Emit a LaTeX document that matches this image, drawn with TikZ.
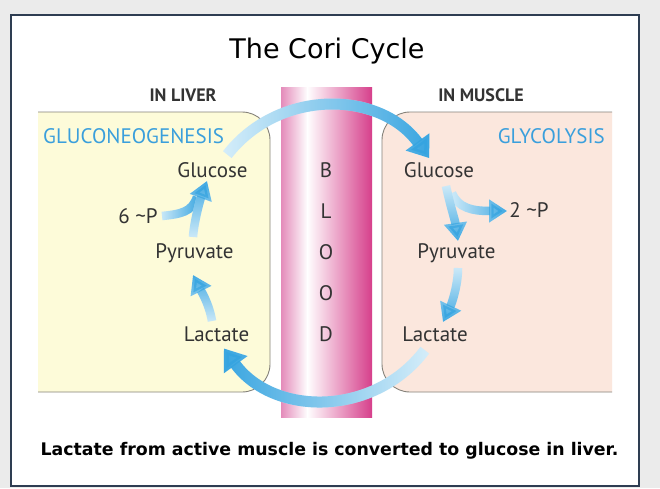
\documentclass[tikz,border=0pt]{standalone}
\usepackage{fontspec}
\setmainfont{PT Sans}
\newfontfamily\dvfont{DejaVu Sans}
\usetikzlibrary{arrows.meta,fadings}

\definecolor{bgout}{HTML}{EBEBEB}
\definecolor{framec}{HTML}{2E3D52}
\definecolor{liverfill}{HTML}{FDFBD9}
\definecolor{musclefill}{HTML}{FBE7DD}
\definecolor{boxline}{HTML}{85827A}
\definecolor{bloodL}{HTML}{E48BBA}
\definecolor{bloodM}{HTML}{EDB3D2}
\definecolor{bloodR}{HTML}{D63F8B}
\definecolor{txt}{HTML}{333333}
\definecolor{procblue}{HTML}{3A9FDC}
\definecolor{paleblue}{HTML}{D6EEFA}
\definecolor{arrblue}{HTML}{36A4E0}

\tikzfading[name=fadeE, left color=transparent!100, right color=transparent!0]
\tikzfading[name=fadeW, left color=transparent!0, right color=transparent!100]
\tikzfading[name=fadeN, bottom color=transparent!100, top color=transparent!0]
\tikzfading[name=fadeS, top color=transparent!100, bottom color=transparent!0]

\newcommand\gradconn[3]{%
  \draw[#1, draw=paleblue] #3;
  \draw[#1, draw=arrblue, path fading=#2] #3;
}

\tikzset{
  bigarc/.style={line width=11pt, -{Triangle[width=28pt,length=20pt]}},
  smallarr/.style={line width=8.5pt, -{Triangle[width=22pt,length=18pt]}},
  smallbranch/.style={line width=8.5pt},
  mol/.style={font=\fontsize{21}{24}\selectfont, text=txt, inner sep=0pt, anchor=base},
  proc/.style={font=\fontsize{21}{24}\selectfont, text=procblue, inner sep=0pt},
  hdr/.style={font=\bfseries\fontsize{18}{20}\selectfont, text=txt, inner sep=0pt, anchor=base},
  organ/.style={draw=boxline, line width=0.9pt, rounded corners=28pt},
}

\begin{document}
\begin{tikzpicture}[x=1pt,y=-1pt]
\useasboundingbox (0,0) rectangle (660,488);
\fill[bgout] (0,0) rectangle (660,488);
\draw[framec, line width=2.5pt, fill=white] (11,15) rectangle (639,486);

% organ boxes
\draw[organ, fill=liverfill] (38,112) -- (270,112) -- (270,392) -- (38,392);
\draw[organ, fill=musclefill] (612,112) -- (382,112) -- (382,392) -- (612,392);

% blood vessel
\shade[left color=bloodL, right color=white] (281,87) rectangle (307.5,417);
\shade[left color=white, middle color=bloodM, right color=bloodR] (307,87) rectangle (372,417);

% title and caption
\node[font=\dvfont\fontsize{27}{32}\selectfont, inner sep=0pt, anchor=base] (title) at (327,58) {The Cori Cycle};
\node[font=\dvfont\bfseries\fontsize{17.35}{20}\selectfont, inner sep=0pt, anchor=base] (caption) at (329.5,455) {Lactate from active muscle is converted to glucose in liver.};

% headings
\node[hdr] (hliver) at (183,101) {IN LIVER};
\node[hdr] (hmuscle) at (481,101) {IN MUSCLE};
\node[proc, anchor=base west] (gng) at (43,143) {GLUCONEOGENESIS};
\node[proc, anchor=base east] (gly) at (605,143) {GLYCOLYSIS};

% liver
\node[mol] (lglu) at (212.5,177) {Glucose};
\node[mol] (lp) at (138,223) {6 \textasciitilde P};
\node[mol] (lpyr) at (194.5,258) {Pyruvate};
\node[mol] (llac) at (216.5,341) {Lactate};

% muscle
\node[mol] (mglu) at (439,177) {Glucose};
\node[mol] (mp) at (529,217) {2 \textasciitilde P};
\node[mol] (mpyr) at (456.5,258) {Pyruvate};
\node[mol] (mlac) at (435,341) {Lactate};

% blood letters
\node[mol] (bB) at (326,177) {B};
\node[mol] (bL) at (326,218.5) {L};
\node[mol] (bO1) at (326,259.5) {O};
\node[mol] (bO2) at (326,300.5) {O};
\node[mol] (bD) at (326,341) {D};

% connector end points
\coordinate (lgluOut) at (227.3,154.6);
\coordinate (mgluIn) at (429.3,158.1);
\coordinate (mlacOut) at (424.8,350.2);
\coordinate (llacIn) at (223.9,348.5);
\coordinate (llacUp) at (212,321);
\coordinate (lpyrIn) at (193,275);
\coordinate (lpyrUp) at (193,237);
\coordinate (lgluIn) at (207,181);
\coordinate (lpOut) at (162,216);
\coordinate (lpJoin) at (197,197);
\coordinate (mgluDown) at (446,186);
\coordinate (mpyrIn) at (458,241);
\coordinate (mgluBranch) at (452,193);
\coordinate (mpIn) at (507,211);
\coordinate (mpyrDown) at (458,268);
\coordinate (mlacIn) at (443,322);

% liver arrows
\gradconn{smallarr}{fadeN}{(llacUp) .. controls (209,303) and (200,289) .. (lpyrIn)}
\gradconn{smallbranch}{fadeE}{(lpOut) .. controls (181,214) and (192,212) .. (lpJoin)}
\gradconn{smallarr}{fadeN}{(lpyrUp) .. controls (194,222) and (200,200) .. (lgluIn)}

% muscle arrows
\gradconn{smallarr}{fadeE}{(mgluBranch) .. controls (458,208) and (472,211) .. (mpIn)}
\gradconn{smallarr}{fadeS}{(mgluDown) .. controls (450,205) and (455,220) .. (mpyrIn)}
\gradconn{smallarr}{fadeS}{(mpyrDown) .. controls (458,285) and (452,303) .. (mlacIn)}

% blood transport arcs
\gradconn{bigarc}{fadeE}{(lgluOut) .. controls (279.1,88.3) and (379.9,90.1) .. (mgluIn)}
\gradconn{bigarc}{fadeW}{(mlacOut) .. controls (374.2,417.3) and (273.3,416.5) .. (llacIn)}
\end{tikzpicture}
\end{document}
